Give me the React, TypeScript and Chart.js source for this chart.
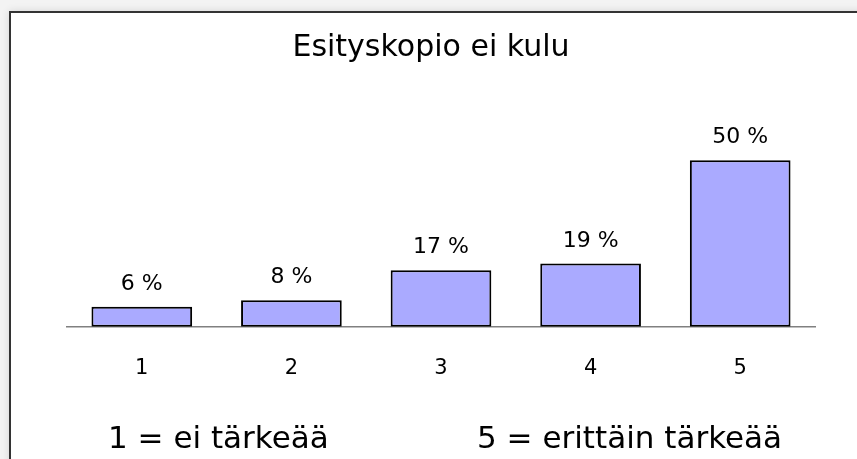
import React, { useEffect, useRef } from "react";
import { Chart, registerables } from "chart.js";

Chart.register(...registerables);

const categories = ["1", "2", "3", "4", "5"];
const values = [6, 8, 17, 19, 50];
const titleText = "Esityskopio ei kulu";
const noteLeft = "1 = ei tärkeää";
const noteRight = "5 = erittäin tärkeää";

const FONT = "'DejaVu Sans', Verdana, sans-serif";

const labelPlugin = {
  id: "barLabels",
  afterDatasetsDraw(chart: any) {
    const ctx = chart.ctx;
    const meta = chart.getDatasetMeta(0);
    ctx.save();
    ctx.font = `22px ${FONT}`;
    ctx.fillStyle = "#000";
    ctx.textAlign = "center";
    ctx.textBaseline = "alphabetic";
    meta.data.forEach((bar: any, i: number) => {
      ctx.fillText(`${values[i]} %`, bar.x, bar.y - 17);
    });
    ctx.restore();
  },
};

const textPlugin = {
  id: "texts",
  afterDraw(chart: any) {
    const ctx = chart.ctx;
    ctx.save();
    ctx.fillStyle = "#000";
    ctx.textBaseline = "middle";
    ctx.textAlign = "center";
    ctx.font = `30px ${FONT}`;
    ctx.fillText(titleText, 431, 48);
    ctx.textAlign = "left";
    ctx.font = `31px ${FONT}`;
    ctx.fillText(noteLeft, 108, 440);
    ctx.fillText(noteRight, 477, 440);
    ctx.restore();
  },
};

export default function App() {
  const ref = useRef<HTMLCanvasElement | null>(null);
  useEffect(() => {
    if (!ref.current) return;
    const chart = new Chart(ref.current, {
      type: "bar",
      data: {
        labels: categories,
        datasets: [
          {
            data: values,
            backgroundColor: "#AAAAFF",
            borderColor: "#000000",
            borderWidth: 2,
            borderSkipped: false,
            barPercentage: 0.673,
            categoryPercentage: 1,
          },
        ],
      },
      options: {
        responsive: false,
        animation: false,
        events: [],
        layout: { padding: { left: 67, right: 42, top: 127, bottom: 49 } },
        plugins: {
          legend: { display: false },
          tooltip: { enabled: false },
          title: { display: false },
        },
        scales: {
          x: {
            grid: { display: true, drawOnChartArea: false, drawTicks: false },
            border: { display: true, color: "#808080", width: 1.5 },
            ticks: {
              color: "#000",
              font: { family: FONT, size: 21 },
              padding: 29,
            },
          },
          y: {
            display: false,
            min: 0,
            max: 60,
          },
        },
      },
      plugins: [labelPlugin, textPlugin],
    });
    return () => chart.destroy();
  }, []);

  return (
    <div
      style={{
        position: "fixed",
        left: 0,
        top: 0,
        width: 857,
        height: 459,
        overflow: "hidden",
        background: "#f3f3f3",
      }}
    >
      <div
        style={{
          position: "absolute",
          left: 9,
          top: 11,
          width: 900,
          height: 500,
          background: "#fff",
          border: "2px solid #333",
          boxShadow: "0 0 8px rgba(0,0,0,0.12)",
        }}
      />
      <canvas
        ref={ref}
        width={857}
        height={459}
        style={{ position: "absolute", left: 0, top: 0, width: 857, height: 459 }}
      />
    </div>
  );
}
